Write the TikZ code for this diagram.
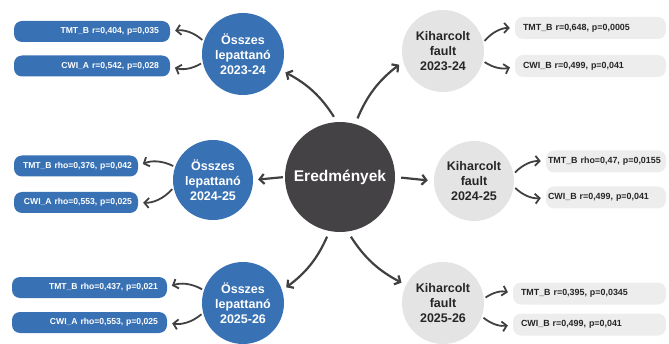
\documentclass[tikz,border=0pt]{standalone}
\usepackage{fontspec}
\setmainfont{Liberation Sans}
\usetikzlibrary{positioning,arrows.meta}

\definecolor{osszkek}{HTML}{3871B4}
\definecolor{korszurke}{HTML}{E4E4E4}
\definecolor{dobozszurke}{HTML}{EDEDED}
\definecolor{kozep}{HTML}{444244}
\definecolor{nyil}{HTML}{404040}

\tikzset{
  kor/.style={circle, minimum size=82pt, inner sep=0pt, align=center,
    font=\bfseries\fontsize{12.5}{15}\selectfont},
  kekkor/.style={kor, fill=osszkek, text=white},
  szurkekor/.style={kor, fill=korszurke, text=black!85},
  doboz/.style={rounded corners=8pt, minimum height=21pt, inner ysep=0pt},
  kekdoboz/.style={doboz, fill=osszkek, text=white, inner xsep=11pt, align=right,
    font=\bfseries\fontsize{8.6}{10}\selectfont},
  szurkedoboz/.style={doboz, fill=dobozszurke, text=black!85, inner xsep=8pt,
    minimum height=22pt, align=left, font=\bfseries\fontsize{8.9}{10}\selectfont},
  fo/.style={->, line width=2.2pt, draw=nyil, shorten <=6pt, shorten >=5pt},
  kis/.style={->, line width=1.8pt, draw=nyil, shorten <=2pt, shorten >=5pt}
}

\begin{document}
\begin{tikzpicture}[x=1pt, y=1pt, on grid, >={Straight Barb[length=4.5pt,width=10pt]}]
   \useasboundingbox (0,0) rectangle (669,343);

   % kozepso kor
   \node[circle, fill=kozep, minimum size=110pt, text=white,
         font=\bfseries\fontsize{15.5}{18}\selectfont] (res) at (340,166) {Eredmények};

   % Osszes lepattano
   \node[kekkor] (ossz1) [above left=123pt and 97pt of res] {Összes\\lepattanó\\2023-24};
   \node[kekkor, minimum size=80pt] (ossz2) [below left=3pt and 127pt of res] {Összes\\lepattanó\\2024-25};
   \node[kekkor] (ossz3) [below left=126pt and 97pt of res] {Összes\\lepattanó\\2025-26};

   % Kiharcolt fault
   \node[szurkekor] (kih1) [above right=126pt and 103pt of res] {Kiharcolt\\fault\\2023-24};
   \node[szurkekor, minimum size=80pt] (kih2) [below right=4pt and 134pt of res] {Kiharcolt\\fault\\2024-25};
   \node[szurkekor] (kih3) [below right=126pt and 103pt of res] {Kiharcolt\\fault\\2025-26};

   % eredmeny dobozok balra
   \node[kekdoboz, text width=134pt] (ossz1t) at (92,311.5) {TMT\_B r=0,404, p=0,035};
   \node[kekdoboz, text width=134pt] (ossz1c) at (92,277) {CWI\_A r=0,542, p=0,028};
   \node[kekdoboz, text width=112pt, inner xsep=6pt] (ossz2t) at (76,177) {TMT\_B rho=0,376, p=0,042};
   \node[kekdoboz, text width=112pt, inner xsep=6pt] (ossz2c) at (76,140.5) {CWI\_A rho=0,553, p=0,025};
   \node[kekdoboz, text width=137pt, inner xsep=9pt] (ossz3t) at (89.5,55.5) {TMT\_B rho=0,437, p=0,021};
   \node[kekdoboz, text width=137pt, inner xsep=9pt] (ossz3c) at (89.5,20.5) {CWI\_A rho=0,553, p=0,025};

   % eredmeny dobozok jobbra
   \node[szurkedoboz, text width=135pt] (kih1t) at (590.5,315) {TMT\_B r=0,648, p=0,0005};
   \node[szurkedoboz, text width=135pt] (kih1c) at (590.5,277) {CWI\_B r=0,499, p=0,041};
   \node[szurkedoboz, text width=116pt, inner xsep=2pt] (kih2t) at (606,181.5) {TMT\_B rho=0,47, p=0,0155};
   \node[szurkedoboz, text width=116pt, inner xsep=2pt] (kih2c) at (606,145.5) {CWI\_B r=0,499, p=0,041};
   \node[szurkedoboz, text width=137pt] (kih3t) at (589.5,49.5) {TMT\_B r=0,395, p=0,0345};
   \node[szurkedoboz, text width=137pt] (kih3c) at (589.5,18.5) {CWI\_B r=0,499, p=0,041};

   % fo nyilak
   \draw[fo] (res.93) to[bend right=15] (ossz1.-23);
   \draw[fo] (res.74) to[bend left=15] (kih1.195);
   \draw[fo, shorten <=2pt] (res.west) -- (ossz2.east);
   \draw[fo, shorten <=6pt, shorten >=6pt] (res.east) -- (kih2.west);
   \draw[fo] (res.259) to[bend left=15] (ossz3.18);
   \draw[fo] (res.278) to[bend right=15] (kih3.154);

   % kis nyilak
   \draw[kis] (ossz1.162) to[bend right=25] (ossz1t.east);
   \draw[kis] (ossz1.192) to[bend left=25] (ossz1c.east);
   \draw[kis] (ossz2.161) to[bend right=25] (ossz2t.east);
   \draw[kis] (ossz2.191) to[bend left=25] (ossz2c.east);
   \draw[kis] (ossz3.162) to[bend right=25] (ossz3t.east);
   \draw[kis] (ossz3.194) to[bend left=25] (ossz3c.east);
   \draw[kis] (kih1.12) to[bend left=25] (kih1t.west);
   \draw[kis] (kih1.-14) to[bend right=25] (kih1c.west);
   \draw[kis] (kih2.10) to[bend left=25] (kih2t.west);
   \draw[kis] (kih2.-8) to[bend right=25] (kih2c.west);
   \draw[kis] (kih3.6) to[bend left=25] (kih3t.west);
   \draw[kis] (kih3.-19) to[bend right=25] (kih3c.west);
\end{tikzpicture}
\end{document}
